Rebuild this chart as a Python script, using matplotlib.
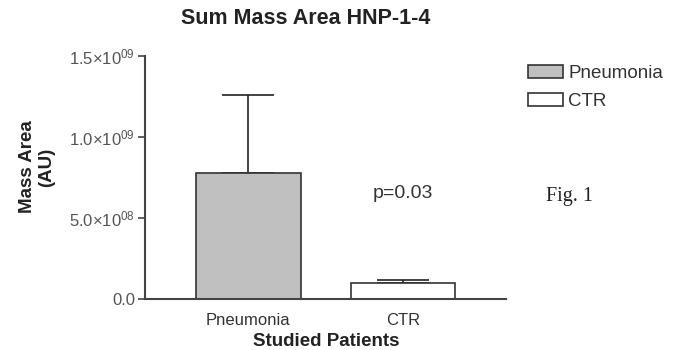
import matplotlib
matplotlib.use("Agg")
import matplotlib.pyplot as plt
from matplotlib.patches import Patch

# values
categories = ["Pneumonia", "CTR"]
means = [7.76e8, 9.9e7]
upper_err = [4.83e8, 2.1e7]
fills = ["#c0c0c0", "#ffffff"]
yticks = [0.0, 5.0e8, 1.0e9, 1.5e9]
ytick_labels = ["0.0", r"5.0×10$^{08}$", r"1.0×10$^{09}$", r"1.5×10$^{09}$"]

plt.rcParams["font.family"] = ["Liberation Sans", "DejaVu Sans"]
plt.rcParams["mathtext.fontset"] = "custom"
plt.rcParams["mathtext.rm"] = "Liberation Sans"
plt.rcParams["mathtext.it"] = "Liberation Sans"

fig = plt.figure(figsize=(6.85, 3.5), dpi=100)
ax = fig.add_axes([145 / 685, 1 - 299.3 / 350, (506 - 145) / 685, (299.3 - 56) / 350])

x = range(len(categories))
ax.bar(x, means, width=0.674, color=fills, edgecolor="#333333", linewidth=1.2,
       zorder=2)
ax.errorbar(x, means, yerr=[[0] * len(means), upper_err], fmt="none",
            ecolor="#222222", elinewidth=1.2, capsize=18.5, capthick=1.2, zorder=1)

ax.set_xlim(-0.667, 1.663)
ax.set_ylim(0, 1.5e9)
ax.set_yticks(yticks)
ax.set_yticklabels(ytick_labels)
ax.set_xticks(list(x))
ax.set_xticklabels(categories)

for s in ["top", "right"]:
    ax.spines[s].set_visible(False)
for s in ["left", "bottom"]:
    ax.spines[s].set_color("#444444")
    ax.spines[s].set_linewidth(1.5)
ax.tick_params(axis="y", length=5, width=1.2, color="#444444", labelsize=12,
               labelcolor="#555555", pad=2)
ax.tick_params(axis="x", length=0, labelsize=12, labelcolor="#333333", pad=10)

ax.text(1.0, 6.5e8, "p=0.03", ha="center", va="center", fontsize=14,
        color="#333333")

fig.text(305.5 / 685, 1 - 18 / 350, "Sum Mass Area HNP-1-4", ha="center",
         va="center", fontsize=15.5, fontweight="bold", color="#222222")
fig.text(326 / 685, 1 - 342 / 350, "Studied Patients", ha="center",
         va="center", fontsize=13.5, fontweight="bold", color="#222222")
fig.text(37 / 685, 1 - 167 / 350, "Mass Area\n(AU)", ha="center", va="center",
         rotation=90, fontsize=13.5, fontweight="bold", color="#222222",
         multialignment="center", linespacing=1.1)

handles = [Patch(facecolor=c, edgecolor="#333333", linewidth=1.2) for c in fills]
fig.legend(handles, categories, loc="upper left",
           bbox_to_anchor=(528 / 685, 1 - 65 / 350), frameon=False,
           fontsize=13.5, handlelength=1.85, handleheight=0.65,
           handletextpad=0.3, labelspacing=0.6, borderpad=0,
           borderaxespad=0, labelcolor="#333333")

fig.text(570 / 685, 1 - 197 / 350, "Fig. 1", ha="center", va="center",
         fontsize=14.5, family="Liberation Serif", color="#222222")

fig.savefig("out.png", dpi=100)
